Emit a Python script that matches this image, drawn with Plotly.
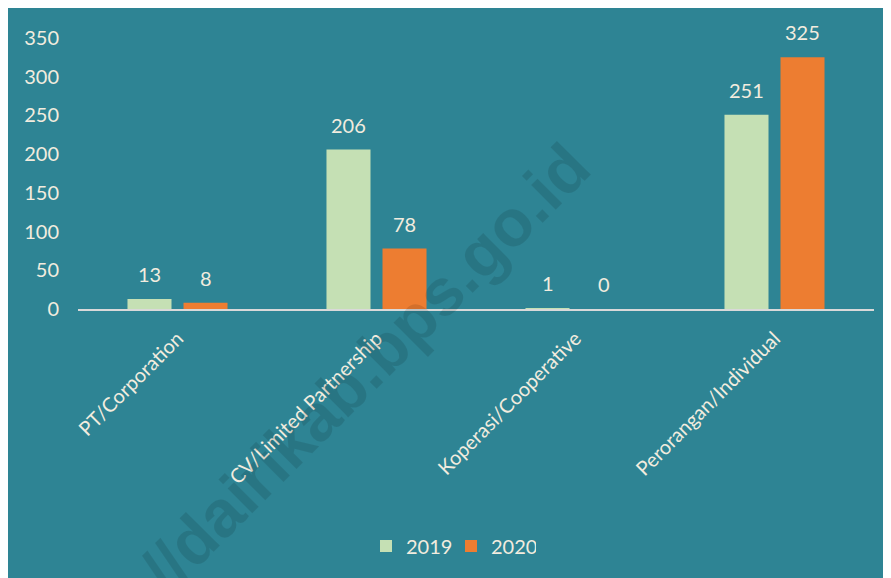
import plotly.graph_objects as go

categories = ["PT/Corporation", "CV/Limited Partnership", "Koperasi/Cooperative", "Perorangan/Individual"]
values_2019 = [13, 206, 1, 251]
values_2020 = [8, 78, 0, 325]
series_names = ["2019", "2020"]
y_ticks = [0, 50, 100, 150, 200, 250, 300, 350]

TEAL = "#2E8494"
GREEN = "#C5E0B4"
ORANGE = "#ED7D31"
TXT = "#F2ECDF"
FONT = "Lato, 'Open Sans', sans-serif"

W, H = 891, 578
L, R, T, B = 70, 25, 30, 277
pw = W - L - R
ph = H - T - B

fig = go.Figure()
fig.add_trace(go.Bar(x=categories, y=values_2019, name=series_names[0],
                     marker=dict(color=GREEN, line=dict(width=0))))
fig.add_trace(go.Bar(x=categories, y=values_2020, name=series_names[1],
                     marker=dict(color=ORANGE, line=dict(width=0))))

annotations = []
for vals, shift in ((values_2019, -28), (values_2020, 28)):
    for c, v in zip(categories, vals):
        annotations.append(dict(x=c, y=v, xref="x", yref="y", text=str(v),
                                showarrow=False, xshift=shift, yshift=25,
                                yanchor="middle",
                                font=dict(family=FONT, size=20, color=TXT)))

# watermark
annotations.append(dict(x=(292 - L) / pw, y=(T + ph - 425) / ph, xref="paper", yref="paper",
                        text="<b>https://dairikab.bps.go.id</b>", showarrow=False,
                        textangle=-45, xanchor="center", yanchor="middle",
                        font=dict(family="Liberation Sans, Arial, sans-serif", size=66,
                                  color="rgba(0,0,0,0.11)")))

fig.update_layout(
    width=W, height=H,
    margin=dict(l=L, r=R, t=T, b=B, pad=0, autoexpand=False),
    paper_bgcolor=TEAL,
    plot_bgcolor=TEAL,
    barmode="group",
    bargap=0.437,
    bargroupgap=0.214,
    font=dict(family=FONT, size=20, color=TXT),
    showlegend=True,
    legend=dict(orientation="h", x=(443 - L) / pw, y=(T + ph - 538) / ph,
                xanchor="center", yanchor="middle",
                font=dict(family=FONT, size=20, color=TXT),
                bgcolor="rgba(0,0,0,0)", entrywidth=40, tracegroupgap=0),
    annotations=annotations,
)
fig.update_xaxes(showline=True, linecolor="#D9D9D9", linewidth=2, showgrid=False,
                 tickangle=-45, ticks="", ticklabelstandoff=8, automargin=False,
                 tickfont=dict(family=FONT, size=20, color=TXT),
                 zeroline=False)
fig.update_yaxes(range=[0, 350], tickvals=y_ticks, showgrid=False, zeroline=False,
                 showline=False, ticks="", ticklabelstandoff=18, automargin=False,
                 tickfont=dict(family=FONT, size=20, color=TXT))

fig.write_html("out.html")
